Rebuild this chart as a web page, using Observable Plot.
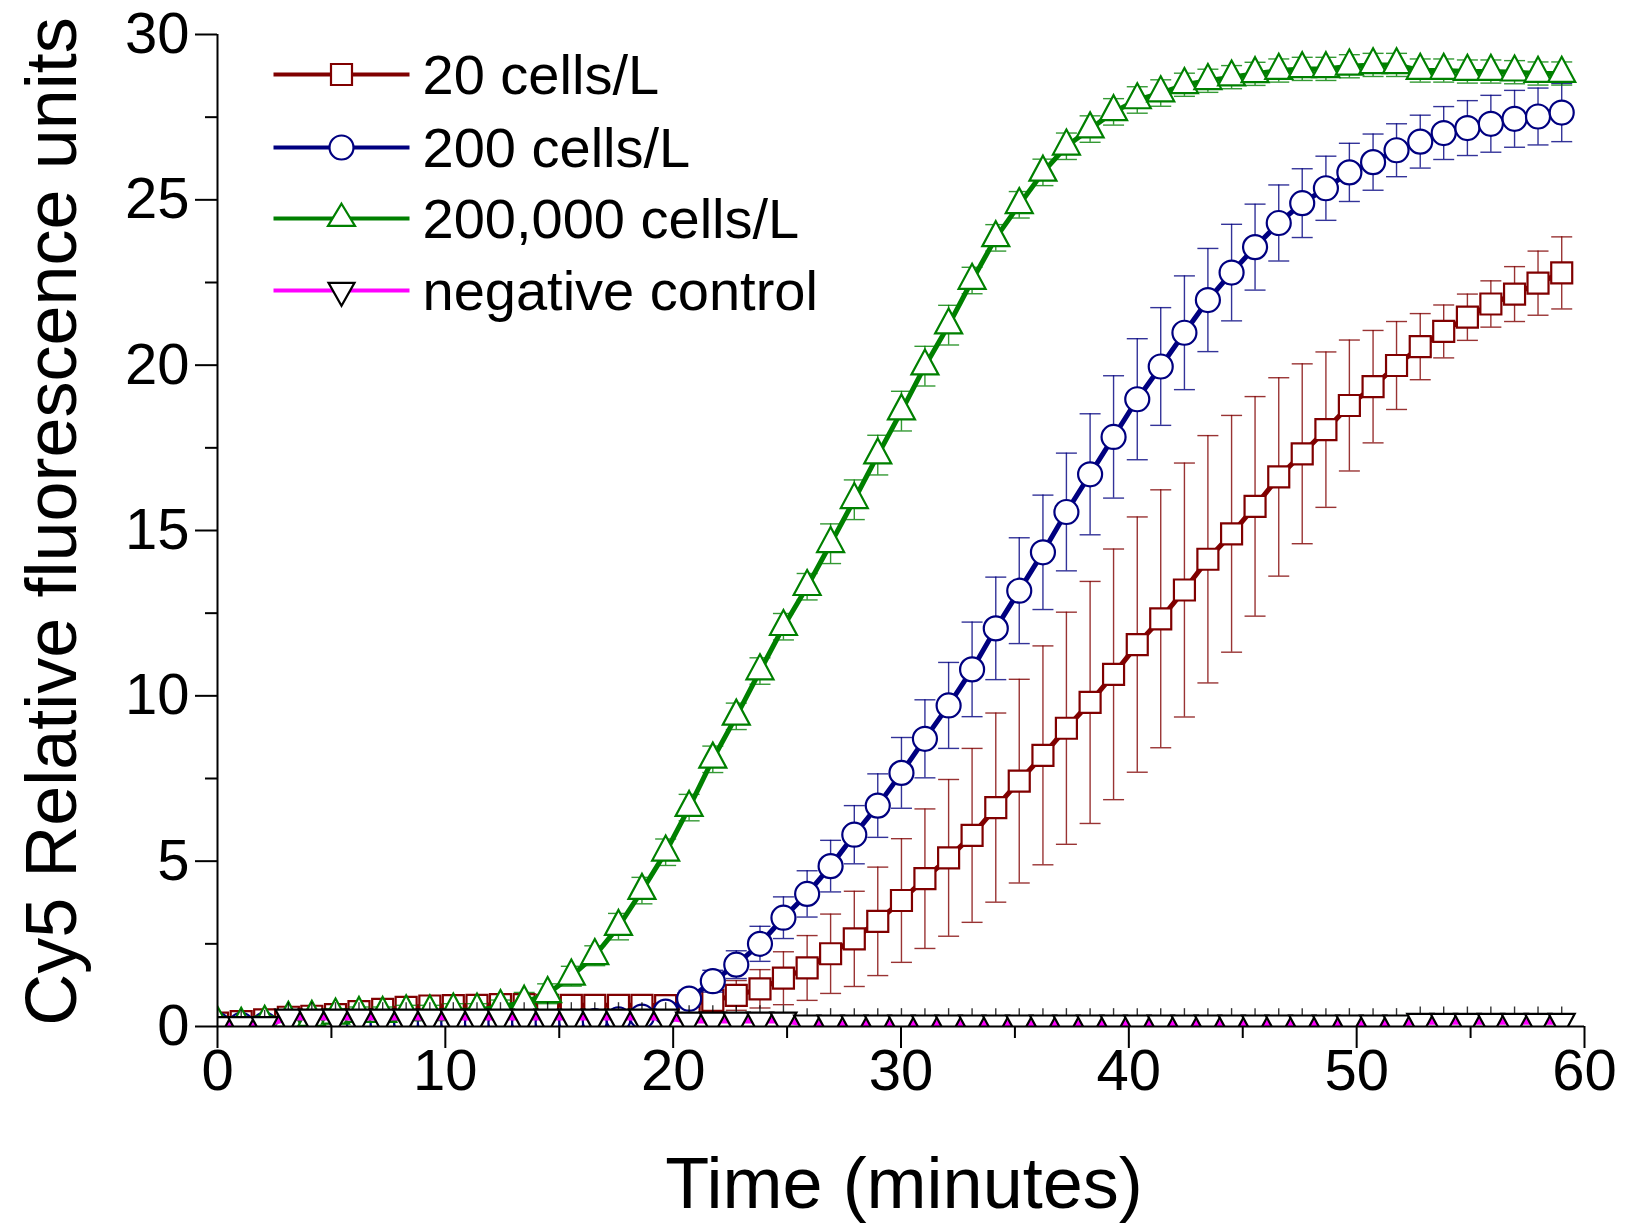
<!DOCTYPE html>
<html>
<head>
<meta charset="utf-8">
<script src="https://cdn.jsdelivr.net/npm/d3@7"></script>
<script src="https://cdn.jsdelivr.net/npm/@observablehq/plot@0.6"></script>
<style>
  html, body { margin: 0; padding: 0; background: #fff; }
  #chart { width: 1628px; height: 1223px; }
</style>
</head>
<body>
<div id="chart"></div>
<script>
// ---- Data ----
const time = [0, 1.04, 2.07, 3.11, 4.14, 5.18, 6.21, 7.25, 8.28, 9.32,
  10.35, 11.39, 12.42, 13.46, 14.49, 15.53, 16.56, 17.6, 18.63, 19.67,
  20.7, 21.74, 22.77, 23.81, 24.84, 25.88, 26.91, 27.95, 28.98, 30.02,
  31.05, 32.09, 33.12, 34.16, 35.19, 36.23, 37.26, 38.3, 39.33, 40.37,
  41.4, 42.44, 43.47, 44.51, 45.54, 46.58, 47.61, 48.65, 49.68, 50.72,
  51.75, 52.79, 53.82, 54.86, 55.89, 56.93, 57.96, 59.0];

const seriesNames = ["20 cells/L", "200 cells/L", "200,000 cells/L", "negative control"];

const cells20 = [0.10, 0.15, 0.20, 0.28, 0.31, 0.36, 0.45, 0.52, 0.58, 0.62,
  0.63, 0.64, 0.66, 0.66, 0.64, 0.64, 0.64, 0.64, 0.64, 0.63,
  0.68, 0.79, 0.94, 1.14, 1.46, 1.77, 2.20, 2.65, 3.18, 3.81,
  4.47, 5.10, 5.78, 6.62, 7.42, 8.20, 9.02, 9.80, 10.65, 11.55,
  12.33, 13.20, 14.13, 14.90, 15.73, 16.62, 17.32, 18.05, 18.78, 19.35,
  19.99, 20.56, 21.02, 21.45, 21.85, 22.15, 22.48, 22.79];
const cells20Err = [0.10, 0.10, 0.12, 0.15, 0.15, 0.15, 0.15, 0.15, 0.15, 0.15,
  0.15, 0.15, 0.15, 0.15, 0.15, 0.15, 0.15, 0.15, 0.15, 0.15,
  0.20, 0.30, 0.45, 0.58, 0.80, 0.98, 1.20, 1.44, 1.64, 1.87,
  2.11, 2.37, 2.63, 2.86, 3.08, 3.31, 3.51, 3.66, 3.79, 3.86,
  3.90, 3.84, 3.74, 3.58, 3.32, 3.00, 2.72, 2.35, 1.98, 1.70,
  1.33, 1.00, 0.80, 0.70, 0.70, 0.83, 0.97, 1.09];

const cells200 = [0.05, 0.05, 0.06, 0.08, 0.08, 0.10, 0.10, 0.10, 0.12, 0.12,
  0.12, 0.12, 0.12, 0.13, 0.13, 0.14, 0.16, 0.22, 0.30, 0.45,
  0.84, 1.37, 1.87, 2.50, 3.29, 4.01, 4.85, 5.80, 6.68, 7.67,
  8.70, 9.71, 10.80, 12.04, 13.18, 14.34, 15.56, 16.70, 17.83, 18.97,
  19.96, 20.98, 21.97, 22.80, 23.57, 24.30, 24.90, 25.35, 25.83, 26.14,
  26.50, 26.76, 27.02, 27.17, 27.30, 27.45, 27.52, 27.64];
const cells200Err = [0.12, 0.12, 0.12, 0.12, 0.12, 0.12, 0.12, 0.12, 0.12, 0.12,
  0.12, 0.12, 0.12, 0.12, 0.12, 0.12, 0.12, 0.12, 0.15, 0.20,
  0.25, 0.33, 0.42, 0.53, 0.63, 0.70, 0.78, 0.88, 0.96, 1.07,
  1.18, 1.30, 1.43, 1.55, 1.60, 1.73, 1.78, 1.83, 1.85, 1.83,
  1.78, 1.72, 1.56, 1.46, 1.30, 1.15, 1.04, 0.97, 0.88, 0.85,
  0.80, 0.80, 0.80, 0.83, 0.86, 0.86, 0.86, 0.88];

const cells200k = [0.10, 0.06, 0.12, 0.24, 0.27, 0.34, 0.39, 0.39, 0.44, 0.44,
  0.49, 0.49, 0.60, 0.73, 0.99, 1.52, 2.14, 3.02, 4.11, 5.27,
  6.62, 8.08, 9.38, 10.75, 12.09, 13.30, 14.60, 15.93, 17.28, 18.61,
  19.97, 21.21, 22.56, 23.85, 24.85, 25.83, 26.62, 27.14, 27.66, 28.02,
  28.23, 28.48, 28.60, 28.71, 28.81, 28.91, 28.96, 28.96, 29.04, 29.08,
  29.08, 28.91, 28.91, 28.88, 28.88, 28.86, 28.82, 28.82];
const cells200kErr = [0.20, 0.20, 0.20, 0.20, 0.20, 0.20, 0.20, 0.20, 0.20, 0.20,
  0.20, 0.20, 0.20, 0.30, 0.30, 0.30, 0.30, 0.40, 0.40, 0.40,
  0.40, 0.40, 0.40, 0.40, 0.40, 0.40, 0.60, 0.60, 0.60, 0.60,
  0.60, 0.60, 0.40, 0.40, 0.40, 0.40, 0.40, 0.40, 0.40, 0.40,
  0.40, 0.35, 0.35, 0.35, 0.35, 0.35, 0.35, 0.35, 0.35, 0.35,
  0.35, 0.35, 0.35, 0.35, 0.35, 0.35, 0.35, 0.35];

const negControl = [0.04, 0.04, 0.04, 0.27, 0.27, 0.27, 0.27, 0.27, 0.27, 0.27,
  0.27, 0.27, 0.27, 0.27, 0.27, 0.27, 0.27, 0.27, 0.27, 0.27,
  0.18, 0.18, 0.18, 0.18, 0.18, 0.09, 0.09, 0.09, 0.09, 0.09,
  0.09, 0.09, 0.09, 0.09, 0.09, 0.09, 0.09, 0.09, 0.09, 0.09,
  0.09, 0.09, 0.09, 0.09, 0.09, 0.09, 0.09, 0.09, 0.09, 0.09,
  0.09, 0.14, 0.14, 0.14, 0.14, 0.14, 0.14, 0.14];
const negControlErr = [0.45, 0.45, 0.45, 0.45, 0.45, 0.45, 0.45, 0.45, 0.45, 0.45,
  0.45, 0.45, 0.45, 0.45, 0.45, 0.45, 0.45, 0.45, 0.45, 0.45,
  0.45, 0.45, 0.45, 0.45, 0.45, 0.45, 0.45, 0.45, 0.45, 0.45,
  0.45, 0.45, 0.45, 0.45, 0.45, 0.45, 0.45, 0.45, 0.45, 0.45,
  0.45, 0.45, 0.45, 0.45, 0.45, 0.45, 0.45, 0.45, 0.45, 0.45,
  0.45, 0.45, 0.45, 0.45, 0.45, 0.45, 0.45, 0.45];

const xTicks = [0, 10, 20, 30, 40, 50, 60];
const xMinorTicks = [5, 15, 25, 35, 45, 55];
const yTicks = [0, 5, 10, 15, 20, 25, 30];
const yMinorTicks = [2.5, 7.5, 12.5, 17.5, 22.5, 27.5];

// ---- Symbols ----
const sym = {
  square: {draw(c) { c.rect(-10.5, -10.5, 21, 21); }},
  circle: {draw(c) { c.moveTo(12, 0); c.arc(0, 0, 12, 0, 2 * Math.PI); }},
  triUp: {draw(c) { c.moveTo(0, -16.7); c.lineTo(13.5, 8.3); c.lineTo(-13.5, 8.3); c.closePath(); }},
  triDown: {draw(c) { c.moveTo(-13, -8); c.lineTo(13, -8); c.lineTo(0, 16); c.closePath(); }},
  cap: {draw(c) { c.moveTo(-10.5, 0); c.lineTo(10.5, 0); }},
  legLine: {draw(c) { c.moveTo(-68, 0); c.lineTo(68, 0); }},
  legSquare: {draw(c) { c.rect(-10.5, -10.5, 21, 21); }},
  legCircle: {draw(c) { c.moveTo(12, 0); c.arc(0, 0, 12, 0, 2 * Math.PI); }},
  legTriUp: {draw(c) { c.moveTo(0, -14.8); c.lineTo(13.5, 7.4); c.lineTo(-13.5, 7.4); c.closePath(); }},
  legTriDown: {draw(c) { c.moveTo(-13, -7.6); c.lineTo(13, -7.6); c.lineTo(0, 15.2); c.closePath(); }}
};

const series = [
  {name: seriesNames[0], mean: cells20, err: cells20Err, color: "#800000", mstroke: "#800000", symbol: sym.square, leg: sym.legSquare, caps: true},
  {name: seriesNames[1], mean: cells200, err: cells200Err, color: "#000080", mstroke: "#000080", symbol: sym.circle, leg: sym.legCircle, caps: true},
  {name: seriesNames[2], mean: cells200k, err: cells200kErr, color: "#008000", mstroke: "#008000", symbol: sym.triUp, leg: sym.legTriUp, caps: true},
  {name: seriesNames[3], mean: negControl, err: negControlErr, color: "#ff00ff", mstroke: "#000000", symbol: sym.triDown, leg: sym.legTriDown, caps: false}
];

const marks = [];
for (const s of series) {
  const rows = time.map((t, i) => ({t, v: s.mean[i], lo: s.mean[i] - s.err[i], hi: s.mean[i] + s.err[i]}));
  const ebColor = s.caps ? s.color : "#000000";
  marks.push(Plot.ruleX(rows, {x: "t", y1: "lo", y2: "hi", stroke: ebColor, strokeWidth: 1.4, strokeOpacity: 0.8, clip: true}));
  if (s.caps) {
    marks.push(Plot.dot(rows, {x: "t", y: "hi", symbol: sym.cap, stroke: ebColor, strokeWidth: 1.4, strokeOpacity: 0.8, clip: true}));
    marks.push(Plot.dot(rows, {x: "t", y: "lo", symbol: sym.cap, stroke: ebColor, strokeWidth: 1.4, strokeOpacity: 0.8, clip: true}));
  }
  marks.push(Plot.line(rows, {x: "t", y: "v", stroke: s.color, strokeWidth: s.caps ? 5 : 6, clip: true}));
  marks.push(Plot.dot(rows, {x: "t", y: "v", symbol: s.symbol, fill: "white", stroke: s.mstroke, strokeWidth: 2.2, clip: true}));
}

// axes
marks.push(Plot.axisY(yTicks, {tickSize: 22, tickPadding: 6, fontSize: 58, strokeWidth: 2, label: null, tickFormat: d => String(d)}));
marks.push(Plot.axisY(yMinorTicks, {tickSize: 12, strokeWidth: 2, label: null, tickFormat: () => ""}));
marks.push(Plot.axisX(xTicks, {tickSize: 22, tickPadding: 0, fontSize: 58, strokeWidth: 2, label: null, tickFormat: d => String(d)}));
marks.push(Plot.axisX(xMinorTicks, {tickSize: 12, strokeWidth: 2, label: null, tickFormat: () => ""}));
marks.push(Plot.ruleX([0], {stroke: "black", strokeWidth: 2}));
marks.push(Plot.ruleY([0], {stroke: "black", strokeWidth: 2}));

// axis titles
marks.push(Plot.text(["Time (minutes)"], {frameAnchor: "bottom", dx: 3, dy: 158, fontSize: 72, textAnchor: "middle", lineAnchor: "middle", fill: "black"}));
marks.push(Plot.text(["Cy5 Relative fluorescence units"], {frameAnchor: "left", dx: -165, dy: -9, rotate: -90, fontSize: 72, textAnchor: "middle", lineAnchor: "middle", fill: "black"}));

// legend
const legendRowDy = [40, 113, 184, 256];
series.forEach((s, i) => {
  marks.push(Plot.dot([s.name], {frameAnchor: "top-left", dx: 124, dy: legendRowDy[i], symbol: sym.legLine, stroke: s.color, strokeWidth: 3.8}));
  marks.push(Plot.dot([s.name], {frameAnchor: "top-left", dx: 124, dy: legendRowDy[i], symbol: s.leg, fill: "white", stroke: s.mstroke, strokeWidth: 2.2}));
  marks.push(Plot.text([s.name], {frameAnchor: "top-left", dx: 205, dy: legendRowDy[i] + 2, textAnchor: "start", lineAnchor: "middle", fontSize: 56, fill: "black"}));
});

const chart = Plot.plot({
  width: 1628,
  height: 1223,
  marginLeft: 217,
  marginRight: 44,
  marginTop: 34,
  marginBottom: 197,
  style: {fontFamily: "'Liberation Sans', Arial, sans-serif", background: "white", color: "black", overflow: "visible"},
  x: {domain: [0, 60], label: null},
  y: {domain: [0, 30], label: null},
  marks
});
document.getElementById("chart").appendChild(chart);
</script>
</body>
</html>
